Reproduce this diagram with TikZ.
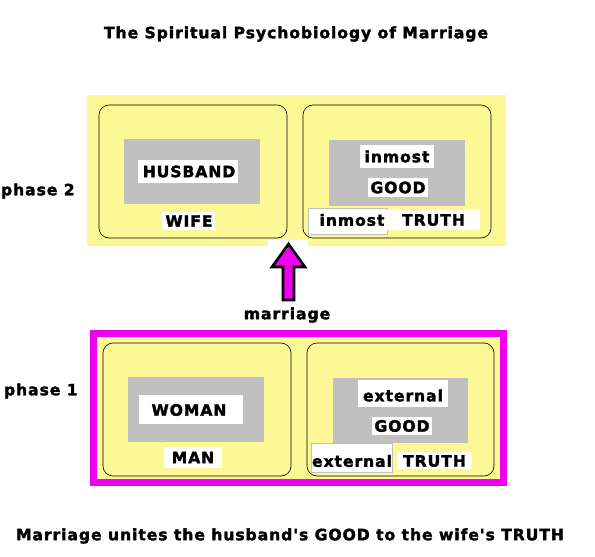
\documentclass[tikz,border=0pt]{standalone}
\usepackage{fontspec}
\setmainfont{DejaVu Sans}
\newfontfamily\lbl[LetterSpace=6,FakeBold=2]{DejaVu Sans}
\begin{document}
\begin{tikzpicture}[x=1pt,y=-1pt,
  every node/.style={inner sep=0pt,outer sep=0pt},
  txt/.style={font=\lbl\bfseries\fontsize{15.6}{15.6}\selectfont, text=black},
  ybox/.style={fill=yel, draw=none},
  rbox/.style={draw=black, line width=0.6pt, rounded corners=10pt},
  gbox/.style={fill=gry, draw=none}]
\definecolor{yel}{RGB}{252,248,150}
\definecolor{gry}{RGB}{192,192,192}
\definecolor{mag}{RGB}{240,0,240}
\useasboundingbox (0,0) rectangle (595,557);
\fill[white] (0,0) rectangle (595,557);

\node[txt] (title) at (296,34) {The Spiritual Psychobiology of Marriage};

% phase 2
\fill[ybox] (87,95) rectangle (506,246);
\fill[white] (268,240) rectangle (308,246);
\draw[rbox] (99,105) rectangle (287,238);
\draw[rbox] (303,105) rectangle (491,238);
\fill[gbox] (124,139) rectangle (260,204);
\fill[gbox] (329,140) rectangle (465,206);
\fill[white] (138,160) rectangle (238,183);
\node[txt] (husband) at (189,171.5) {HUSBAND};
\fill[white] (162,212) rectangle (215,230);
\node[txt] (wife) at (189,221) {WIFE};
\fill[white] (360,145) rectangle (434,168);
\node[txt] (inmost1) at (397,156.5) {inmost};
\fill[white] (368,178) rectangle (428,197);
\node[txt] (good2) at (398,187.5) {GOOD};
\filldraw[fill=white,draw=gry,line width=0.6pt] (308,208) rectangle (387,234);
\node[txt] (inmost2) at (352,220) {inmost};
\fill[white] (387,210) rectangle (480,230);
\node[txt] (truth2) at (433.5,220) {TRUTH};
\node[txt,anchor=west] (phase2) at (1,191) {phase 2};

% arrow
\filldraw[fill=mag,draw=black,line width=2.6pt,line join=miter]
  (288.5,244) -- (305,267) -- (294,267) -- (294,300) -- (283,300) -- (283,267) -- (272,267) -- cycle;
\node[txt] (marriage) at (287,315) {marriage};

% phase 1
\fill[mag] (90,330) rectangle (507,486);
\fill[ybox] (97,337) rectangle (500,479);
\draw[rbox] (103,343) rectangle (291,476);
\draw[rbox] (307,343) rectangle (494,476);
\fill[gbox] (128,377) rectangle (264,442);
\fill[gbox] (333,378) rectangle (468,443);
\fill[white] (139,395) rectangle (243,424);
\node[txt] (woman) at (189,410) {WOMAN};
\fill[white] (164,447) rectangle (222,468);
\node[txt] (man) at (193,457.5) {MAN};
\fill[white] (358,380) rectangle (448,407);
\node[txt] (external1) at (403,395.5) {external};
\fill[white] (372,417) rectangle (432,435);
\node[txt] (good1) at (402,426) {GOOD};
\filldraw[fill=white,draw=gry,line width=0.6pt] (311,443) rectangle (392,472);
\node[txt] (external2) at (352,461) {external};
\fill[white] (397,452) rectangle (472,469);
\node[txt] (truth1) at (434.5,461) {TRUTH};
\node[txt,anchor=west] (phase1) at (4,391) {phase 1};

\node[txt] (caption) at (290,536) {Marriage unites the husband's GOOD to the wife's TRUTH};
\end{tikzpicture}
\end{document}
